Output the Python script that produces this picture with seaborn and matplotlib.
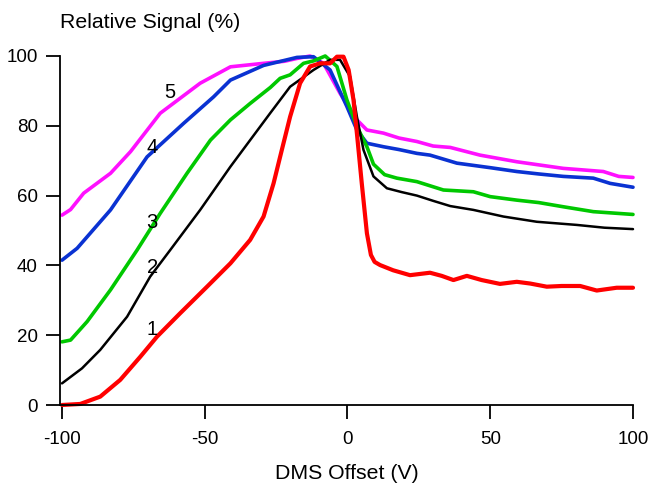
import matplotlib
matplotlib.use('Agg')
import matplotlib.pyplot as plt
import seaborn as sns
import pandas as pd

# curve 1 (red)
x1 = [-100, -93.6, -86.6, -79.6, -72.6, -66.7, -58.6, -49.2, -41, -34.1, -29.4, -25.9, -23, -20.1,
      -16.6, -13.1, -9.6, -6.1, -3.7, -1.4, 0.4, 2.1, 3.3, 5, 6.8, 8.2, 9.5, 11.4, 16, 21.9, 28.9,
      33, 37.1, 41.8, 47, 53.4, 59.3, 64, 69.8, 75, 81.5, 87.3, 94.3, 100]
y1 = [0, 0.3, 2.4, 7.2, 13.8, 19.6, 26.3, 33.9, 40.6, 47.3, 54, 63.5, 73.1, 82.6,
      92.2, 97, 97.9, 97.9, 99.8, 99.8, 96, 87.4, 77.8, 63.5, 49.2, 43, 41, 40.1, 38.6, 37.2, 37.9,
      37, 35.8, 37, 35.8, 34.7, 35.3, 34.8, 33.9, 34.1, 34.1, 32.8, 33.6, 33.6]

# curve 2 (black)
x2 = [-100, -93, -86.6, -77.2, -69.1, -62.1, -51.6, -41, -34.1, -27.1, -20.1, -11.9, -6.1, -2.6,
      0.9, 3.3, 5.6, 9.1, 13.8, 19, 24.3, 30, 36, 44.1, 54.6, 66.3, 80.3, 90, 100]
y2 = [6.2, 10.5, 15.8, 25.3, 36.8, 44.4, 55.9, 68.3, 75.9, 83.6, 91.2, 96, 98.9, 98.9,
      94.1, 82.6, 73.1, 65.5, 62.1, 61.0, 60.0, 58.5, 57.0, 55.9, 54.0, 52.5, 51.6, 50.8, 50.4]

# curve 3 (green)
x3 = [-100, -97, -91.2, -83, -73.7, -65.6, -56.2, -48, -41, -34.1, -27, -23.6, -20.1, -15.4, -11.9,
      -7.8, -3.7, -0.2, 3.3, 6.8, 9.1, 13, 17.3, 24.3, 33.6, 44.1, 50, 59.3, 67, 75.6, 86.1, 100]
y3 = [18.1, 18.6, 23.9, 33.0, 44.4, 54.9, 66.4, 75.9, 81.7, 86.4, 91.0, 93.6, 94.6, 97.9, 98.6,
      100, 97, 87.4, 79.8, 74, 69, 66, 65, 64, 61.6, 61.1, 59.7, 58.7, 58, 56.8, 55.4, 54.6]

# curve 4 (blue)
x4 = [-100, -94.7, -83, -70.2, -57.4, -46.9, -41, -29.4, -17.7, -11.9, -6.1, -0.2, 3.3, 6.8,
      12.6, 18, 24.3, 28.9, 38.3, 50, 59.3, 67, 75.6, 86.1, 92, 100]
y4 = [41.5, 44.9, 55.9, 71.1, 80.7, 88.3, 93.1, 97.3, 99.6, 99.8, 96, 85.5, 78.8, 75,
      74, 73.2, 72.1, 71.6, 69.3, 68, 66.9, 66.2, 65.5, 65, 63.5, 62.4]

# curve 5 (magenta)
x5 = [-100, -97, -92.4, -83, -76, -65.6, -51.6, -41, -29.4, -22, -17.7, -13.1, -8.4, -2.6, 3.3,
      6.8, 12.6, 18, 24.3, 30, 36, 46.4, 59.3, 75.6, 89.6, 95, 100]
y5 = [54.4, 56.0, 60.7, 66.4, 72.6, 83.6, 92.2, 96.9, 97.9, 98.5, 99.3, 100, 97.9, 89.3, 81.7,
      78.8, 77.9, 76.5, 75.5, 74.2, 73.8, 71.6, 69.7, 67.8, 66.9, 65.5, 65.2]

labels = ['1', '2', '3', '4', '5']
label_x = [-68.4, -68.4, -68.4, -68.4, -62.1]
label_y = [21.5, 39.3, 52.4, 73.9, 89.4]

sns.set_style('ticks')
plt.rcParams['font.family'] = ['Liberation Sans', 'DejaVu Sans']
plt.rcParams['axes.unicode_minus'] = False

fig = plt.figure(figsize=(6.52, 4.86), dpi=100)
ax = fig.add_axes([60 / 652, 81 / 486, 573 / 652, 349 / 486])

curves = [
    (x5, y5, '#ff10ff', 2.6),
    (x4, y4, '#0a32d2', 2.6),
    (x3, y3, '#00c800', 2.6),
    (x2, y2, 'black', 1.8),
    (x1, y1, '#ff0000', 3.0),
]
for xs, ys, color, lw in curves:
    df = pd.DataFrame({'x': xs, 'y': ys})
    sns.lineplot(data=df, x='x', y='y', color=color, linewidth=lw, estimator=None,
                 ax=ax, clip_on=False, solid_joinstyle='round', solid_capstyle='round')

for lab, lx, ly in zip(labels, label_x, label_y):
    ax.text(lx, ly, lab, fontsize=14.5, ha='center', va='center', color='black')

ax.set_xlim(-100.7, 100)
ax.set_ylim(0, 100)
ax.set_xticks([-100, -50, 0, 50, 100])
ax.set_yticks([0, 20, 40, 60, 80, 100])
ax.tick_params(direction='out', length=10, width=1.3, labelsize=13.5, color='black',
               labelcolor='black')
ax.tick_params(axis='x', pad=9)
ax.tick_params(axis='y', pad=6)
for s in ['top', 'right']:
    ax.spines[s].set_visible(False)
for s in ['left', 'bottom']:
    ax.spines[s].set_linewidth(1.3)
    ax.spines[s].set_color('black')

ax.set_xlabel('DMS Offset (V)', fontsize=15.3, labelpad=11, color='black')
ax.set_ylabel('')
fig.text(150 / 652, 1 - 23 / 486, 'Relative Signal (%)', fontsize=15.3,
         ha='center', va='center', color='black')

plt.savefig('out.png', dpi=100)
plt.close()
